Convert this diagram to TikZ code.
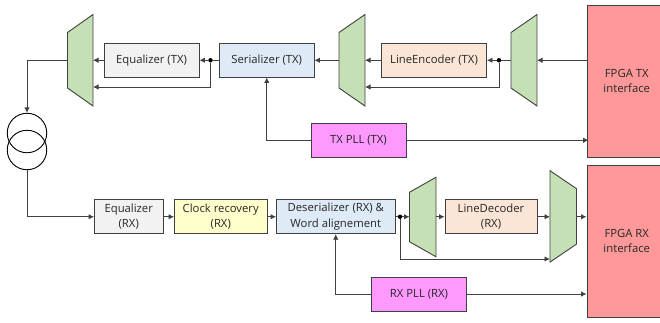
\documentclass[tikz,border=0pt]{standalone}
\usepackage{fontspec}
\setmainfont{Open Sans}
\usetikzlibrary{arrows.meta,calc}
\definecolor{edgecol}{HTML}{404040}
\definecolor{txtcol}{HTML}{262626}
\definecolor{muxgreen}{HTML}{C5E0B4}
\definecolor{eqgray}{HTML}{F2F2F2}
\definecolor{serblue}{HTML}{DEEBF7}
\definecolor{linepeach}{HTML}{FBE5D6}
\definecolor{fpgared}{HTML}{FF9999}
\definecolor{pllpink}{HTML}{FF99FF}
\definecolor{clockyellow}{HTML}{FFFFCC}
\tikzset{
  blockbox/.style={draw=edgecol,line width=0.9pt,inner sep=0pt,align=center,text=txtcol,
    font=\fontsize{11.3}{15.5}\selectfont},
  conn/.style={draw=edgecol,line width=0.9pt,-{Latex[length=5.5pt,width=5.5pt]}},
  plainconn/.style={draw=edgecol,line width=0.9pt},
  junction/.style={circle,fill=black,inner sep=0pt,minimum size=4.5pt},
  muxframe/.style={inner sep=0pt,outer sep=0pt},
  muxshape/.style={draw=edgecol,line width=0.9pt,fill=muxgreen,line join=miter},
  coil/.style={circle,draw=black,line width=0.9pt,inner sep=0pt,minimum size=39.5pt},
}
% name, centre x, centre y, width, height, fill, text
\newcommand{\boxat}[7]{\node[blockbox,fill=#6,minimum width=#4pt,minimum height=#5pt] (#1) at (#2,#3) {#7};}
% mux with long side on the right
\newcommand{\muxR}[6]{%
  \node[muxframe,minimum width=#4pt,minimum height=#5pt] (#1) at (#2,#3) {};
  \draw[muxshape] ($(#1.north east)$) -- ($(#1.north west)+(0,#6)$) -- ($(#1.south west)+(0,-#6)$) -- ($(#1.south east)$) -- cycle;}
% mux with long side on the left
\newcommand{\muxL}[6]{%
  \node[muxframe,minimum width=#4pt,minimum height=#5pt] (#1) at (#2,#3) {};
  \draw[muxshape] ($(#1.north west)$) -- ($(#1.north east)+(0,#6)$) -- ($(#1.south east)+(0,-#6)$) -- ($(#1.south west)$) -- cycle;}
\begin{document}
\begin{tikzpicture}[x=1pt,y=-1pt]
\useasboundingbox (0,0) rectangle (660,322);
\fill[white] (0,0) rectangle (660,322);
% transformer
\node[coil] (coilA) at (27,133) {};
\node[coil] (coilB) at (27,150) {};
% muxes
\muxR{muxA}{80.25}{60.25}{25.5}{91.5}{18}
\muxR{muxB}{352}{60.25}{26}{91.5}{18}
\muxR{muxC}{524}{60.25}{26}{91.5}{18}
\muxR{muxD}{422.75}{217}{26.5}{79.5}{15}
\muxL{muxE}{563.25}{216.4}{26.5}{91.4}{18}
% TX blocks
\boxat{eqtx}{151.5}{60.25}{95}{33.5}{eqgray}{Equalizer (TX)}
\boxat{ser}{266.75}{60.25}{94.5}{33.5}{serblue}{Serializer (TX)}
\boxat{enc}{434}{60.25}{105}{33.5}{linepeach}{LineEncoder (TX)}
\boxat{txpll}{358.5}{140.25}{95}{33.5}{pllpink}{TX PLL (TX)}
\boxat{fpgatx}{626.75}{81}{79.5}{152}{fpgared}{FPGA TX\\interface}
% RX blocks
\boxat{eqrx}{128.75}{216.75}{68.5}{34}{eqgray}{Equalizer\\(RX)}
\boxat{clk}{220.75}{216.75}{92.5}{34}{clockyellow}{Clock recovery\\(RX)}
\boxat{des}{335.75}{216.75}{118.5}{34}{serblue}{Deserializer (RX) \&\\Word alignement}
\boxat{dec}{491}{216.75}{92}{34}{linepeach}{LineDecoder\\(RX)}
\boxat{rxpll}{419}{294}{95}{34}{pllpink}{RX PLL (RX)}
\boxat{fpgarx}{626.75}{241}{79.5}{152}{fpgared}{FPGA RX\\interface}
% junctions and bends
\node[junction] (jA) at (210.5,60.25) {};
\node[junction] (jB) at (499,60.25) {};
\node[junction] (jC) at (400,216.75) {};
\coordinate (tA) at (muxA.east |- 0,87);
\coordinate (tB) at (muxB.east |- 0,87);
\coordinate (tE) at (muxE.west |- 0,259);
% TX path
\draw[conn] (fpgatx.west |- muxC.east) -- (muxC.east);
\draw[plainconn] (muxC.west) -- (jB);
\draw[conn] (jB) -- (enc.east);
\draw[conn] (jB) |- (tB);
\draw[conn] (enc.west) -- (muxB.east);
\draw[conn] (muxB.west) -- (ser.east);
\draw[plainconn] (ser.west) -- (jA);
\draw[conn] (jA) -- (eqtx.east);
\draw[conn] (jA) |- (tA);
\draw[conn] (eqtx.west) -- (muxA.east);
\draw[conn] (muxA.west) -| (coilA.north);
\draw[conn] (txpll.west) -| (ser.south);
\draw[conn] (txpll.east) -- ($(fpgatx.west |- txpll.east)+(2,0)$);
% RX path
\draw[conn] (coilB.south) |- (eqrx.west);
\draw[conn] (eqrx.east) -- (clk.west);
\draw[conn] (clk.east) -- (des.west);
\draw[plainconn] (des.east) -- (jC);
\draw[conn] (jC) -- (muxD.west |- jC);
\draw[conn] (jC) |- (tE);
\draw[conn] (muxD.east |- dec.west) -- (dec.west);
\draw[conn] (dec.east) -- (muxE.west |- dec.east);
\draw[conn] (muxE.east |- dec.east) -- (fpgarx.west |- dec.east);
\draw[conn] (rxpll.west) -| (des.south);
\draw[conn] (rxpll.east) -- (fpgarx.west |- rxpll.east);
\end{tikzpicture}
\end{document}
